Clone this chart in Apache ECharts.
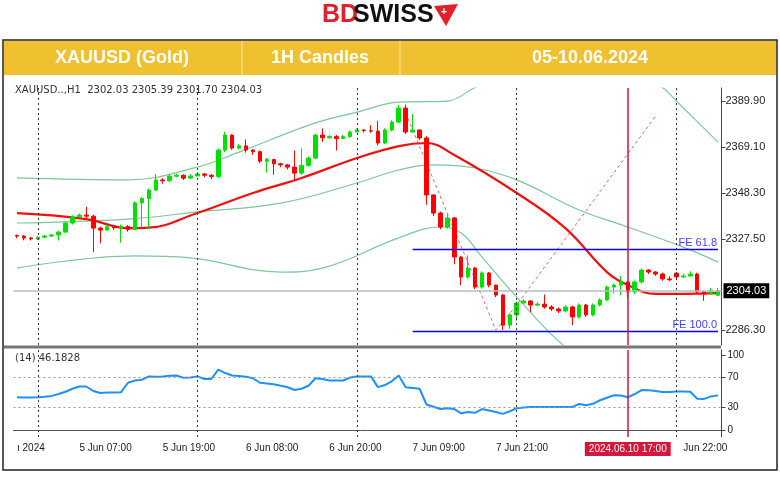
<!DOCTYPE html>
<html><head><meta charset="utf-8">
<script src="https://cdn.jsdelivr.net/npm/echarts@6/dist/echarts.min.js"></script>
<style>html,body{margin:0;padding:0;background:#fff}#c{width:780px;height:478px}</style>
</head><body><div id="c"></div>
<script>
const opens = [2329.0,2328.8,2327.9,2327.5,2328.3,2328.8,2329.3,2330.6,2334.7,2337.4,
2338.3,2337.8,2332.4,2331.5,2333.0,2332.5,2333.2,2331.8,2343.8,2345.8,
2349.6,2354.2,2353.8,2355.9,2356.3,2355.0,2356.0,2356.9,2356.3,2355.7,
2367.7,2374.5,2368.6,2369.6,2367.7,2367.0,2362.7,2363.4,2361.5,2361.0,
2360.0,2357.3,2360.8,2364.1,2374.5,2373.3,2373.8,2372.9,2373.8,2375.9,
2376.8,2376.5,2376.3,2370.9,2376.8,2380.4,2386.7,2375.9,2376.8,2373.2,
2347.4,2339.2,2332.9,2337.0,2319.3,2310.3,2314.3,2305.7,2312.1,2306.6,
2302.1,2288.5,2293.1,2298.5,2299.4,2297.6,2298.0,2296.7,2295.8,2294.9,
2296.7,2292.2,2297.6,2293.1,2297.6,2299.9,2305.7,2306.6,2308.0,2303.5,
2308.0,2313.4,2312.5,2311.6,2309.4,2312.0,2310.3,2310.7,2311.6,2303.5,
2302.6,2302.03];
const closes = [2328.8,2327.9,2327.5,2328.3,2328.8,2329.3,2330.6,2334.7,2337.4,2338.3,
2337.8,2332.4,2331.5,2333.0,2332.5,2333.2,2331.8,2343.8,2345.8,2349.6,
2354.2,2353.8,2355.9,2356.3,2355.0,2356.0,2356.9,2356.3,2355.7,2367.7,
2374.5,2368.6,2369.6,2367.7,2367.0,2362.7,2363.4,2361.5,2361.0,2360.0,
2357.3,2360.8,2364.1,2374.5,2373.3,2373.8,2372.9,2373.8,2375.9,2376.8,
2376.5,2376.3,2370.9,2376.8,2380.4,2386.7,2375.9,2376.8,2373.2,2347.4,
2339.2,2332.9,2337.0,2319.3,2310.3,2314.3,2305.7,2312.1,2306.6,2302.1,
2288.5,2293.1,2298.5,2299.4,2297.6,2298.0,2296.7,2295.8,2294.9,2296.7,
2292.2,2297.6,2293.1,2297.6,2299.9,2305.7,2306.6,2308.0,2303.5,2308.0,
2313.4,2312.5,2311.6,2309.4,2309.0,2310.3,2310.7,2311.6,2303.5,2302.6,
2304.3,2304.03];
const highs = [2329.5,2329.2,2328.4,2328.8,2329.3,2329.8,2331.2,2335.3,2338.2,2339.0,
2342.0,2338.5,2333.0,2333.8,2333.6,2334.0,2333.8,2344.5,2346.5,2350.3,
2356.8,2355.0,2356.6,2357.0,2356.7,2356.8,2357.8,2357.4,2356.8,2368.5,
2376.0,2374.8,2370.5,2372.5,2368.2,2367.5,2364.2,2363.8,2362.0,2361.5,
2367.5,2368.5,2364.8,2375.0,2377.5,2374.5,2374.5,2374.6,2376.6,2377.5,
2377.3,2379.0,2381.0,2377.6,2381.2,2388.0,2388.3,2384.0,2377.0,2374.0,
2347.8,2339.8,2339.0,2337.4,2319.8,2320.0,2314.8,2312.8,2312.5,2306.8,
2302.5,2293.8,2299.2,2300.2,2299.8,2298.9,2302.3,2297.5,2296.5,2297.5,
2297.3,2298.3,2298.1,2298.3,2300.6,2306.4,2307.3,2310.8,2308.5,2308.7,
2314.1,2313.8,2313.0,2312.3,2310.6,2312.5,2311.8,2312.8,2312.2,2304.0,
2305.4,2305.39];
const lows = [2327.8,2326.9,2326.8,2327.0,2327.9,2328.5,2326.8,2330.2,2334.0,2337.5,
2337.0,2321.5,2325.5,2331.8,2331.6,2325.8,2330.8,2331.4,2333.0,2331.8,
2349.0,2352.5,2353.2,2355.4,2354.2,2354.8,2356.0,2355.4,2354.6,2355.0,
2366.8,2367.8,2368.0,2366.5,2365.5,2361.8,2357.5,2356.5,2360.0,2359.0,
2354.3,2356.5,2360.2,2363.5,2371.5,2372.8,2367.5,2372.8,2373.2,2376.0,
2375.7,2375.5,2369.8,2370.4,2376.2,2380.0,2375.0,2375.8,2372.3,2343.0,
2337.8,2331.9,2332.2,2316.0,2306.6,2309.5,2304.8,2305.0,2305.6,2301.2,
2286.3,2286.8,2290.5,2298.4,2294.4,2297.2,2295.9,2294.9,2294.0,2294.2,
2288.5,2291.5,2292.2,2292.5,2297.0,2299.3,2302.8,2302.0,2300.8,2302.5,
2307.4,2311.6,2310.8,2308.6,2308.4,2309.5,2309.8,2310.8,2302.9,2299.5,
2302.2,2301.7];
const rsi = [43.6,43.5,43.4,43.8,44.5,45.5,48,51,55,58,
58,52,49.4,50,50,50.5,63,66,67,71.5,
71,71.5,72.5,72.7,69.6,70,71.5,68,68,80.5,
76,72.7,72,71,69,63,62,61,59,57,
53.3,55,59,69,68,66,66,66,70,71.5,
71.5,71.5,57.2,60,65,72.7,57,56,55,34,
31,28,29,28,22.3,24,23,28,26,24,
21.5,25,29,30,30.8,30.8,30.8,30.8,30.8,30.6,
30.8,34.7,33,35,39.7,43,46.3,46,43.6,48,
53.3,53,52,50.6,50.6,51.4,51.4,51,41.7,41.5,
44.8,46.2];
const bbUpper = [[0,2355.1],[16,2354.2],[26,2360],[32,2366.8],[43,2380],[49,2384.9],[55,2389.4],[62,2389.9],[66,2396],[72,2404],[81,2408],[88,2404],[93,2396],[95,2389.9],[101,2371.3]];
const bbMid = [[0,2334.7],[16,2336.5],[26,2339.7],[38,2343.7],[49,2352.8],[55,2358.7],[60,2361],[66,2359.6],[72,2354.2],[81,2340.6],[88,2332.9],[96,2323.8],[101,2317]];
const bbLower = [[0,2314.3],[17,2319.8],[25,2318.9],[38,2312.5],[44,2314.3],[55,2328],[61,2332.9],[64,2330.2],[67,2319.3],[72,2301.2],[79,2278.6],[86,2265],[101,2262]];
const maRed = [[0,2339.2],[10,2336.5],[16,2332.4],[19,2332.6],[26,2339.2],[34,2348.3],[41,2355.1],[49,2364.1],[55,2369.5],[59,2370.9],[63,2365.5],[72,2348.3],[79,2332.4],[85,2312.5],[88,2306.6],[92,2302.6],[101,2303]];
const fibPath = [[56,2384.5],[69,2286.3],[72,2297.6],[92,2383.1]];
const feLevels = [{name:'FE 61.8',value:2322.9},{name:'FE 100.0',value:2285.8}];
const lastPrice = 2304.03;
const priceTicks = [2286.3,2327.5,2348.3,2369.1,2389.9];
const rsiTicks = [0,30,70,100];
const xLabels = {0:'ı 2024',9:'5 Jun 07:00',21:'5 Jun 19:00',33:'6 Jun 08:00',45:'6 Jun 20:00',57:'7 Jun 09:00',69:'7 Jun 21:00',96:'Jun 22:00'};
const gridTicks = [3,26,49,72,95];
const markIndex = 88;
const markLabel = '2024.06.10 17:00';

const cats = closes.map((_, i) => String(i));
const candles = closes.map((c, i) => [opens[i], c, lows[i], highs[i]]);
const vline = gridTicks.map(v => ({xAxis: v}));
const chart = echarts.init(document.getElementById('c'));
const lineS = (name, data, color, w, xi) => ({type:'line', name, data, xAxisIndex:xi||0, yAxisIndex:xi||0, smooth:0.4, connectNulls:true, symbol:'none', lineStyle:{color, width:w}, silent:true, z:2});
chart.setOption({
  animation:false,
  textStyle:{fontFamily:'Liberation Sans, DejaVu Sans'},
  grid:[{left:13.5,right:58.5,top:88,bottom:133},{left:13.5,right:58.5,top:350,bottom:41}],
  xAxis:[
    {type:'category',data:cats,gridIndex:0,axisLine:{show:false},axisTick:{show:false},axisLabel:{show:false},splitLine:{show:false}},
    {type:'category',data:cats,gridIndex:1,axisLine:{lineStyle:{color:'#555',width:1}},axisTick:{show:false},
     axisLabel:{interval:(i)=>xLabels[i]!==undefined,formatter:(v,i)=>xLabels[i]||'',align:'left',color:'#222',fontSize:10,margin:6},splitLine:{show:false}}
  ],
  yAxis:[
    {type:'value',gridIndex:0,position:'right',min:2279.5,max:2395.8,axisLine:{show:true,lineStyle:{color:'#444'}},
     axisTick:{show:true,customValues:priceTicks,length:4,lineStyle:{color:'#444'}},
     axisLabel:{customValues:priceTicks,formatter:v=>v.toFixed(2),color:'#222',fontSize:11,margin:4},splitLine:{show:false}},
    {type:'value',gridIndex:1,position:'right',min:-9.3,max:106.7,axisLine:{show:true,lineStyle:{color:'#444'}},
     axisTick:{show:true,customValues:rsiTicks,length:4},
     axisLabel:{customValues:rsiTicks,color:'#222',fontSize:10,margin:6},splitLine:{show:false}}
  ],
  series:[
    lineS('upper',bbUpper,'#7cc896',1.2),
    lineS('mid',bbMid,'#7cc896',1.2),
    lineS('lower',bbLower,'#7cc896',1.2),
    {type:'line',data:[],markLine:{silent:true,symbol:'none',lineStyle:{color:'#333',type:[2,3],width:1},label:{show:false},data:vline}},
    {type:'line',data:[],markLine:{silent:true,symbol:'none',lineStyle:{color:'#b4bcc4',type:'solid',width:1.5},
      label:{show:true,position:'end',formatter:lastPrice.toFixed(2),backgroundColor:'#000',color:'#fff',fontSize:11,padding:[2,3],distance:2},
      data:[{yAxis:lastPrice}]}},
    {type:'line',data:[],color:'#0000ff',markLine:{silent:true,symbol:'none',
      label:{show:true,position:'insideEndTop',color:'#4040ff',fontSize:11,distance:1,formatter:p=>p.data.name},
      data:feLevels.map(f=>[{coord:['57',f.value],name:f.name,lineStyle:{color:'#0000ff',width:1.3,type:'solid'}},{coord:['101',f.value]}])}},
    {type:'line',data:fibPath,symbol:'none',lineStyle:{color:'#e8606a',type:[3,3],width:1},silent:true,z:3},
    lineS('ma',maRed,'#f01010',2.2),
    {type:'candlestick',data:candles,barWidth:4,z:4,itemStyle:{color:'#00e000',color0:'#ff0000',borderColor:'#00e000',borderColor0:'#ff0000',borderWidth:1}},
    {type:'line',data:[],markLine:{silent:true,symbol:'none',lineStyle:{color:'#d8103a',type:'solid',width:1.5},label:{show:false},data:[{xAxis:markIndex}]}},
    {type:'line',xAxisIndex:1,yAxisIndex:1,data:rsi,symbol:'none',lineStyle:{color:'#1e90ff',width:2},silent:true,z:3,
     markLine:{silent:true,symbol:'none',lineStyle:{color:'#999',type:[2,3],width:1},label:{show:false},data:[{yAxis:30},{yAxis:70}]}},
    {type:'line',xAxisIndex:1,yAxisIndex:1,data:[],markLine:{silent:true,symbol:'none',lineStyle:{color:'#333',type:[2,3],width:1},label:{show:false},data:vline}},
    {type:'line',xAxisIndex:1,yAxisIndex:1,data:[],markLine:{silent:true,symbol:'none',lineStyle:{color:'#d8103a',type:'solid',width:1.5},
      label:{show:true,position:'start',formatter:markLabel,backgroundColor:'#d6163c',color:'#fff',fontSize:10,padding:[2,4],distance:5},data:[{xAxis:markIndex}]}}
  ],
  graphic:[
    {type:'rect',shape:{x:3,y:40,width:774,height:430},style:{fill:'none',stroke:'#222',lineWidth:1.5},silent:true},
    {type:'rect',shape:{x:4,y:41,width:772,height:34},style:{fill:'#efc131'},silent:true},
    {type:'line',shape:{x1:242,y1:41,x2:242,y2:75},style:{stroke:'#f8e6a8',lineWidth:1}},
    {type:'line',shape:{x1:400,y1:41,x2:400,y2:75},style:{stroke:'#f8e6a8',lineWidth:1}},
    {type:'text',style:{text:'XAUUSD (Gold)',x:122,y:58,align:'center',verticalAlign:'middle',fill:'#fff',font:'bold 18px "Liberation Sans Narrow", "Liberation Sans"'}},
    {type:'text',style:{text:'1H Candles',x:320,y:58,align:'center',verticalAlign:'middle',fill:'#fff',font:'bold 18px "Liberation Sans Narrow", "Liberation Sans"'}},
    {type:'text',style:{text:'05-10.06.2024',x:590,y:58,align:'center',verticalAlign:'middle',fill:'#fff',font:'bold 18px "Liberation Sans Narrow", "Liberation Sans"'}},
    {type:'text',style:{text:'BD',x:322,y:15,verticalAlign:'middle',fill:'#e3202a',font:'bold 25px "Liberation Sans Narrow", "Liberation Sans"'}},
    {type:'text',style:{text:'SWISS',x:353,y:15,verticalAlign:'middle',fill:'#111',font:'bold 25px "Liberation Sans Narrow", "Liberation Sans"'}},
    {type:'polygon',shape:{points:[[434,6],[458,4],[446,26]]},style:{fill:'#e3202a'}},
    {type:'text',style:{text:'+',x:444,y:12,align:'center',verticalAlign:'middle',fill:'#fff',font:'bold 10px sans-serif'}},
    {type:'text',style:{text:'XAUUSD..,H1  2302.03 2305.39 2301.70 2304.03',x:15,y:85,fill:'#333',font:'10px "DejaVu Sans"'}},
    {type:'line',shape:{x1:4,y1:347,x2:721,y2:347},style:{stroke:'#777',lineWidth:3}},
    {type:'text',style:{text:'(14) 46.1828',x:15,y:353,fill:'#333',font:'10px "DejaVu Sans"'}}
  ]
});
</script></body></html>
